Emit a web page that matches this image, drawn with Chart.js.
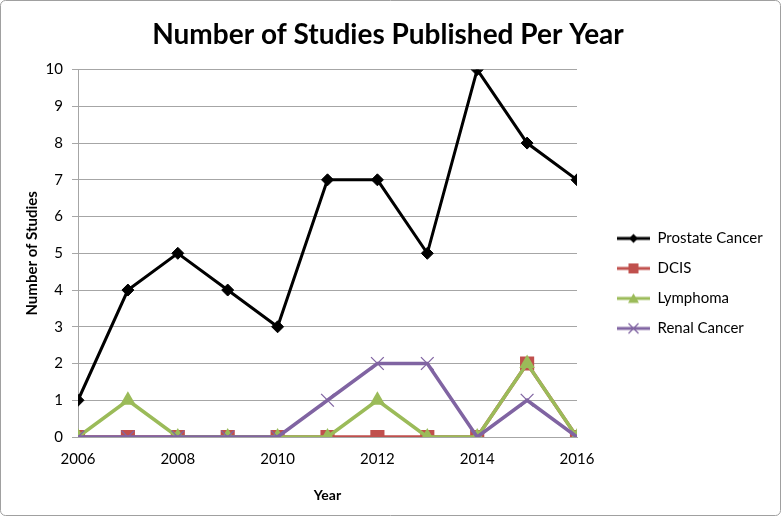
<!DOCTYPE html>
<html>
<head>
<meta charset="utf-8">
<script src="https://cdn.jsdelivr.net/npm/chart.js@4.4.0/dist/chart.umd.min.js"></script>
<style>
  html, body { margin: 0; padding: 0; background: #fff; }
  #wrap { width: 781px; height: 516px; }
</style>
</head>
<body>
<div id="wrap"><canvas id="chart1" width="781" height="516"></canvas></div>
<script>
const years = [2006, 2007, 2008, 2009, 2010, 2011, 2012, 2013, 2014, 2015, 2016];
const prostate = [1, 4, 5, 4, 3, 7, 7, 5, 10, 8, 7];
const dcis = [0, 0, 0, 0, 0, 0, 0, 0, 0, 2, 0];
const lymphoma = [0, 1, 0, 0, 0, 0, 1, 0, 0, 2, 0];
const renal = [0, 0, 0, 0, 0, 1, 2, 2, 0, 1, 0];

const fontFam = 'Lato, "Open Sans", sans-serif';
const swatchShift = 25;   // blank room left of each legend swatch

function pts(values) {
    return years.map((y, i) => ({ x: y, y: values[i] }));
}

// little line + marker picture for the legend
function swatch(color, style) {
    const c = document.createElement('canvas');
    c.width = swatchShift + 33; c.height = 14;
    const g = c.getContext('2d');
    g.translate(swatchShift, 0);
    g.strokeStyle = color;
    g.lineWidth = 3;
    g.beginPath(); g.moveTo(0, 7); g.lineTo(33, 7); g.stroke();
    g.fillStyle = color;
    g.beginPath();
    if (style === 'diamond') {
        g.moveTo(16.5, 2.5); g.lineTo(21, 7); g.lineTo(16.5, 11.5); g.lineTo(12, 7); g.closePath(); g.fill();
    } else if (style === 'square') {
        g.fillRect(11.5, 2, 10, 10);
    } else if (style === 'triangle') {
        g.moveTo(16.5, 2); g.lineTo(22, 11.5); g.lineTo(11, 11.5); g.closePath(); g.fill();
    } else {
        g.lineWidth = 1.2;
        g.moveTo(11.5, 2); g.lineTo(21.5, 12); g.moveTo(21.5, 2); g.lineTo(11.5, 12); g.stroke();
    }
    return c;
}

const frame = {
    id: 'frame',
    beforeDraw(chart) {
        const ctx = chart.ctx;
        ctx.save();
        ctx.fillStyle = '#fff';
        ctx.fillRect(0, 0, chart.width, chart.height);
        ctx.strokeStyle = '#a0a0a0';
        ctx.lineWidth = 1;
        ctx.beginPath();
        ctx.roundRect(0.5, 0.5, chart.width - 1, chart.height - 1, 5);
        ctx.stroke();
        ctx.restore();
    }
};

// fixed width for the legend column on the right
const legendWidth = {
    id: 'legendWidth',
    beforeLayout(chart) {
        const lg = chart.legend;
        if (lg && !lg._wrapped) {
            const fit = lg.fit;
            lg.fit = function () {
                fit.call(this);
                this.width = 199;
            };
            lg._wrapped = true;
        }
    }
};

let configurations = {
    type: 'line',
    data: {
        datasets: [
            {
                label: 'Prostate Cancer',
                data: pts(prostate),
                borderColor: '#000000',
                backgroundColor: '#000000',
                borderWidth: 3,
                pointStyle: 'rectRot',
                pointRadius: 6,
                pointBorderWidth: 1,
                order: 4,
                legendPic: swatch('#000000', 'diamond')
            },
            {
                label: 'DCIS',
                data: pts(dcis),
                borderColor: '#C0504D',
                backgroundColor: '#C0504D',
                borderWidth: 3.5,
                pointStyle: 'rect',
                pointRadius: 10,
                pointBorderWidth: 0,
                order: 3,
                legendPic: swatch('#C0504D', 'square')
            },
            {
                label: 'Lymphoma',
                data: pts(lymphoma),
                borderColor: '#9BBB59',
                backgroundColor: '#9BBB59',
                borderWidth: 3.5,
                pointStyle: 'triangle',
                pointRadius: 9,
                pointBorderWidth: 0,
                order: 2,
                legendPic: swatch('#9BBB59', 'triangle')
            },
            {
                label: 'Renal Cancer',
                data: pts(renal),
                borderColor: '#8064A2',
                backgroundColor: '#8064A2',
                borderWidth: 3.5,
                pointStyle: 'crossRot',
                pointRadius: 9,
                pointBorderWidth: 1.3,
                order: 1,
                legendPic: swatch('#8064A2', 'x')
            }
        ]
    },
    options: {
        responsive: false,
        animation: false,
        layout: { padding: { left: 0, right: 5, top: 0, bottom: 0 } },
        scales: {
            x: {
                type: 'linear',
                min: 2006,
                max: 2016,
                afterFit: (scale) => { scale.height = 79; },
                ticks: {
                    stepSize: 2,
                    color: '#000',
                    font: { size: 15, family: fontFam },
                    padding: 5,
                    maxRotation: 0,
                    callback: (v) => String(v)
                },
                grid: { display: false },
                border: { display: true, color: '#a6a6a6', width: 1 },
                title: {
                    display: true,
                    text: 'Year',
                    color: '#000',
                    font: { size: 14, weight: 'bold', family: fontFam },
                    padding: { top: 4, bottom: 12 }
                }
            },
            y: {
                min: 0,
                max: 10,
                afterFit: (scale) => { scale.width = 78; },
                ticks: {
                    stepSize: 1,
                    color: '#000',
                    font: { size: 15, family: fontFam },
                    padding: 9
                },
                grid: {
                    color: '#a6a6a6',
                    lineWidth: 1,
                    tickLength: 6,
                    drawTicks: true
                },
                border: { display: true, color: '#a6a6a6', width: 1 },
                title: {
                    display: true,
                    text: 'Number of Studies',
                    color: '#000',
                    font: { size: 15, weight: 'bold', family: fontFam },
                    padding: { top: 23, bottom: 0 }
                }
            }
        },
        plugins: {
            title: {
                display: true,
                text: 'Number of Studies Published Per Year',
                color: '#000',
                font: { size: 28, weight: 'bold', family: fontFam },
                padding: { top: 18, bottom: 18 }
            },
            legend: {
                display: true,
                position: 'right',
                title: { display: true, text: ' ', padding: { top: 24, bottom: 10 }, font: { size: 14 } },
                labels: {
                    usePointStyle: true,
                    pointStyleWidth: swatchShift + 33,
                    color: '#000',
                    font: { size: 15, family: fontFam },
                    padding: 15,
                    generateLabels: (chart) => chart.data.datasets.map((ds, i) => ({
                        text: ds.label,
                        pointStyle: ds.legendPic,
                        fillStyle: ds.borderColor,
                        strokeStyle: ds.borderColor,
                        lineWidth: 0,
                        fontColor: '#000',
                        hidden: false,
                        datasetIndex: i
                    }))
                }
            },
            tooltip: { enabled: false }
        }
    },
    plugins: [frame, legendWidth]
};

const contexte = document.querySelector('#chart1').getContext('2d');
let graphique = new Chart(contexte, configurations);
</script>
</body>
</html>
